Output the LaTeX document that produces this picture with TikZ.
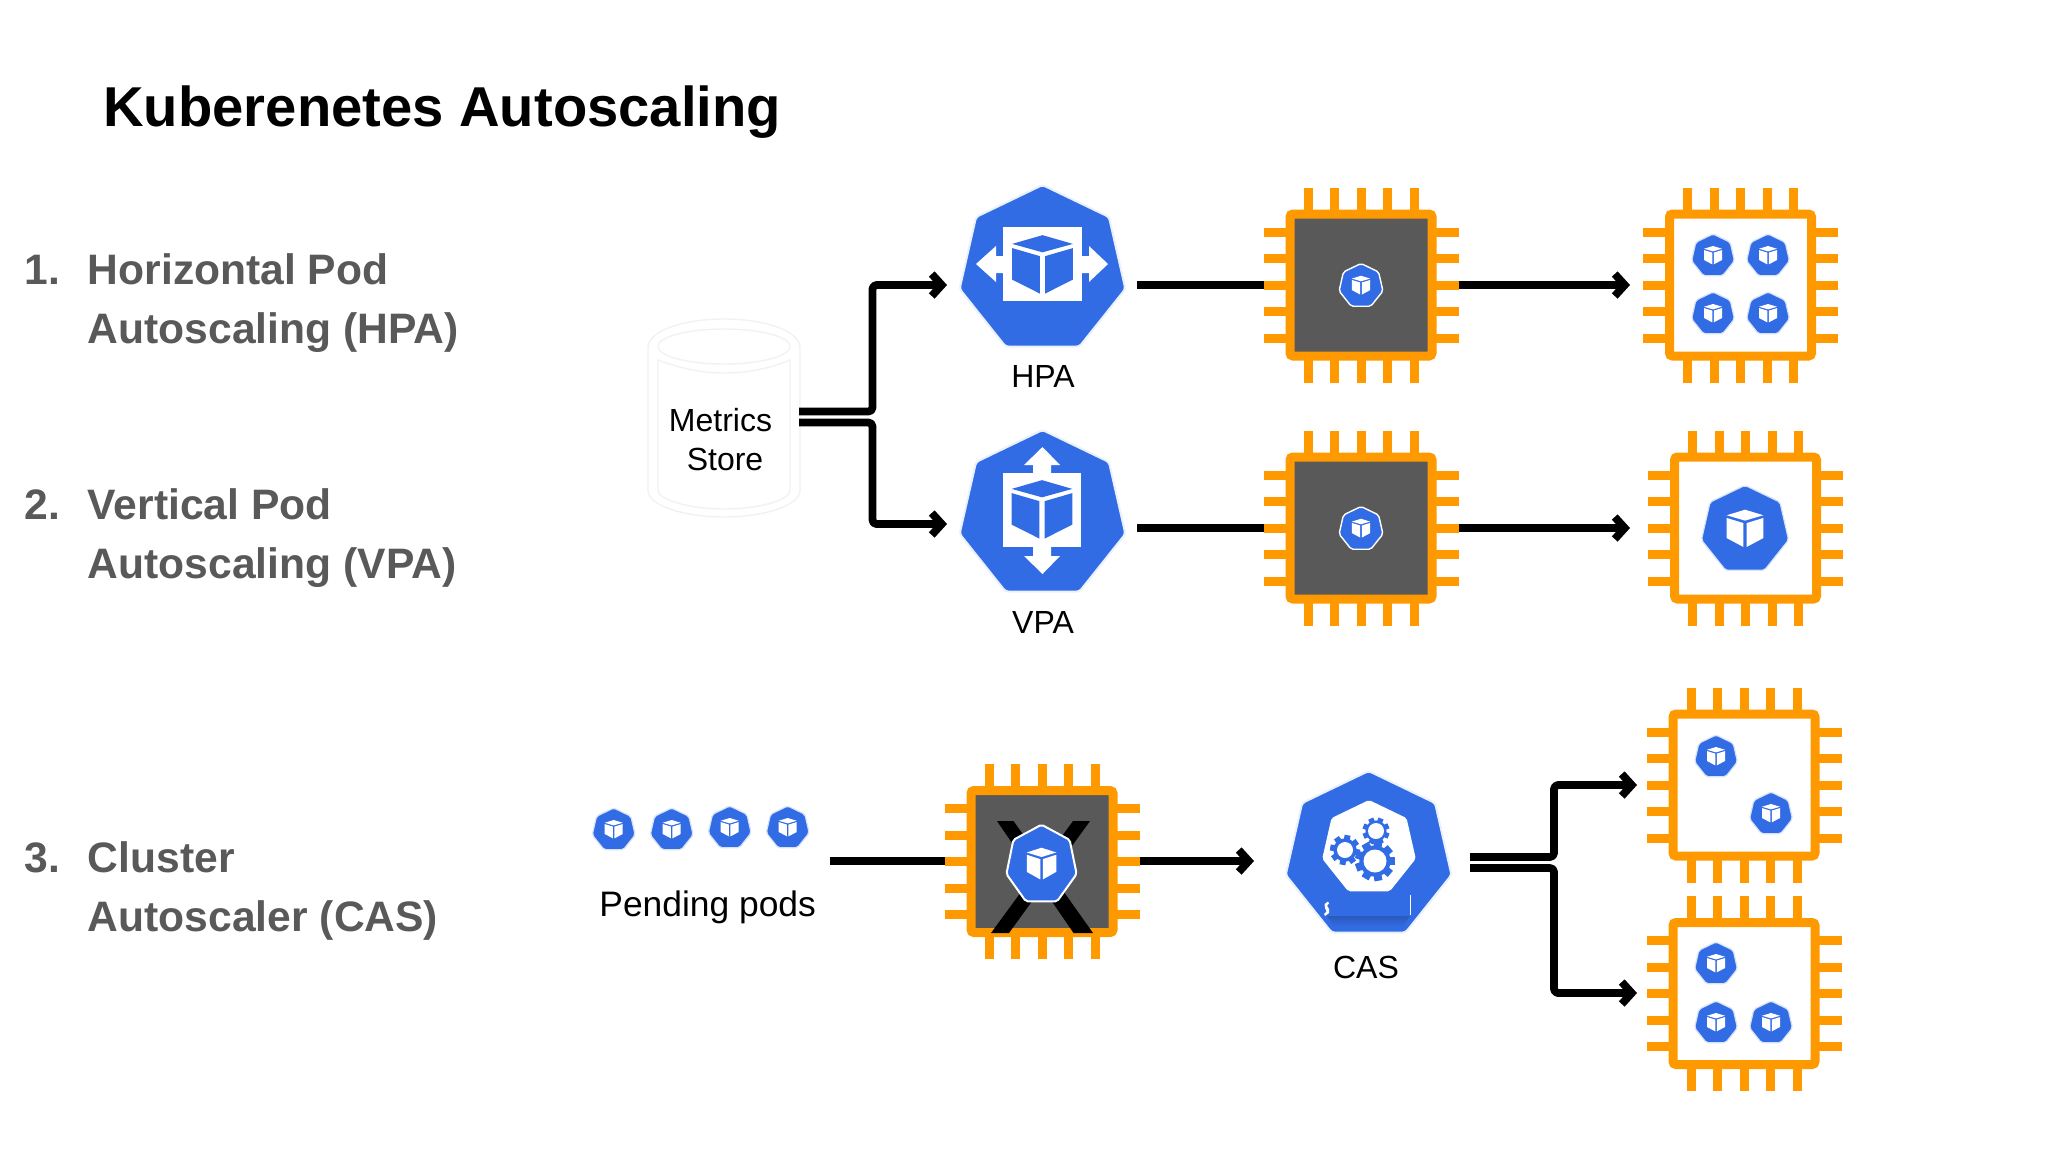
\documentclass[tikz,border=0pt]{standalone}
\usepackage{fontspec}
\setmainfont{Liberation Sans}
\usetikzlibrary{shapes.geometric,arrows.meta}
\definecolor{orng}{HTML}{FF9900}
\definecolor{kblue}{HTML}{326CE5}
\definecolor{kdark}{HTML}{2A59BC}
\definecolor{khalo}{HTML}{D6E2FA}
\definecolor{dgrey}{HTML}{595959}
\definecolor{cyl}{HTML}{F2F2F2}
\tikzset{
  conn/.style={line width=3.9pt,black,line join=round},
  arr/.style={conn,-{Straight Barb[length=5pt,width=11pt,line width=3.9pt]}},
  pin/.style={line width=4.5pt,orng},
  chipbody/.style={draw=orng,line width=4.5pt,rounded corners=1.5pt,minimum size=71pt,inner sep=0pt,outer sep=0pt},
  podbase/.style={regular polygon,regular polygon sides=7,fill=kblue,inner sep=0pt,outer sep=0pt,rounded corners=1pt},
  smallpod/.style={podbase,draw=khalo,line width=0.6pt},
  whitepod/.style={podbase,draw=white,line width=0.7pt},
  bigpod/.style={podbase,draw=khalo!50,line width=1pt,rounded corners=1.5pt,minimum size=85pt},
  lab/.style={font=\fontsize{16}{18}\selectfont,inner sep=0pt,anchor=base},
  item/.style={font=\fontsize{21.3}{26}\selectfont\bfseries,text=dgrey,inner sep=0pt,anchor=base west},
}
% chip: name, cx, cy, interior colour
\newcommand{\chip}[4]{%
  \foreach \d in {-53,-26.5,0,26.5,53}{
    \draw[pin] (#2+\d,#3-97.5) -- (#2+\d,#3+97.5);
    \draw[pin] (#2-97.5,#3+\d) -- (#2+97.5,#3+\d);
  }
  \node[chipbody,fill=#4] (#1) at (#2,#3) {};
}
% cube: cx, cy, scale x, scale y, colour
\newcommand{\cube}[5]{%
  \begin{scope}[shift={(#1,#2)},xscale=#3,yscale=#4]
    \fill[#5] (0,-.455) -- (.41,-.33) -- (0,-.21) -- (-.41,-.33) -- cycle;
    \fill[#5] (-.41,-.27) -- (-.035,-.155) -- (-.035,.38) -- (-.41,.18) -- cycle;
    \fill[#5] (.41,-.27) -- (.035,-.155) -- (.035,.38) -- (.41,.18) -- cycle;
  \end{scope}%
}
% pod: name, cx, cy, R
\newcommand{\pod}[4]{%
  \node[smallpod,minimum size={2*#4*0.5pt}] (#1) at (#2,#3) {};
  \cube{#2}{#3}{#4}{#4}{white}%
}
% pod with a white rim, on a dark chip
\newcommand{\podw}[4]{%
  \node[whitepod,minimum size={2*#4*0.5pt}] (#1) at (#2,#3) {};
  \cube{#2}{#3}{#4}{#4}{white}%
}
% gear: cx, cy, outer r, hole r, teeth, rotation
\newcommand{\gear}[6]{%
  \fill[kblue] (#1,#2) circle ({#3*0.78});
  \foreach \a in {1,...,#5}{
    \draw[kblue,line width={#3*0.2pt}] (#1,#2) -- ++({#6+\a*360/#5}:#3);
  }
  \fill[white] (#1,#2) circle (#4);
}
\begin{document}
\begin{tikzpicture}[x=0.5pt,y=-0.5pt]
\useasboundingbox (0,0) rectangle (2048,1152);
\fill[white] (0,0) rectangle (2048,1152);

% title and list
\node[inner sep=0pt,anchor=base west,font=\fontsize{28.1}{34}\selectfont\bfseries] (title) at (103,126) {Kuberenetes Autoscaling};
\node[item] (n1) at (24,284) {1.};
\node[item] (t1a) at (87.5,284) {Horizontal Pod};
\node[item] (t1b) at (87.5,343) {Autoscaling (HPA)};
\node[item] (n2) at (24,519) {2.};
\node[item] (t2a) at (87.5,519) {Vertical Pod};
\node[item] (t2b) at (87.5,578) {Autoscaling (VPA)};
\node[item] (n3) at (24,872) {3.};
\node[item] (t3a) at (87.5,872) {Cluster};
\node[item] (t3b) at (87.5,931) {Autoscaler (CAS)};

% metrics store cylinder
\begin{scope}[draw=cyl,line width=0.7pt]
  \draw (648,348) .. controls (648,330) and (685,319) .. (724,319)
        .. controls (763,319) and (800,330) .. (800,348) -- (800,490)
        .. controls (800,506) and (763,517) .. (724,517)
        .. controls (685,517) and (648,506) .. (648,490) -- cycle;
  \draw (724,346.5) ellipse[x radius=66,y radius=17.5];
  \draw (658,360) .. controls (680,368) and (700,373) .. (724,373)
        .. controls (750,373) and (770,368) .. (790,360) -- (790,490)
        .. controls (790,500) and (760,509) .. (724,509)
        .. controls (690,509) and (658,500) .. (658,490) -- cycle;
\end{scope}
\node[lab] (m1) at (720.5,431) {Metrics};
\node[lab] (m2) at (725,470) {Store};
\coordinate (ms1) at (799,411.5);
\coordinate (ms2) at (799,422.5);

% HPA icon
\node[bigpod] (hpa) at (1042.5,270) {};
\fill[white] (1003,227) rectangle (1082,301);
\fill[white] (1004,256) -- (996,256) -- (996,246) -- (976,264) -- (996,282) -- (996,273) -- (1004,273) -- cycle;
\fill[white] (1081,256) -- (1089,256) -- (1089,246) -- (1108,264) -- (1089,282) -- (1089,273) -- (1081,273) -- cycle;
\cube{1042.5}{267}{74}{70}{kblue}
\node[lab] (hpal) at (1043,387) {HPA};

% VPA icon
\node[bigpod] (vpa) at (1042.5,515) {};
\fill[white] (1003,473) rectangle (1081,547);
\fill[white] (1033,474) -- (1033,465) -- (1024,465) -- (1042.5,447) -- (1060,465) -- (1051,465) -- (1051,474) -- cycle;
\fill[white] (1033,546) -- (1033,556) -- (1024,556) -- (1042.5,574) -- (1060,556) -- (1051,556) -- (1051,546) -- cycle;
\cube{1042}{512}{74}{70}{kblue}
\node[lab] (vpal) at (1043,633) {VPA};

% chips, rows 1 and 2
\chip{c1m}{1361}{285}{dgrey}
\chip{c1r}{1740.5}{285}{white}
\chip{c2m}{1361}{528}{dgrey}
\chip{c2r}{1745.5}{528}{white}
\podw{p1m}{1361}{286}{22.5}
\podw{p2m}{1361}{529}{22.5}
\pod{p1a}{1713}{256}{22}
\pod{p1b}{1768}{256}{22}
\pod{p1c}{1713}{314}{22}
\pod{p1d}{1768}{314}{22}
\pod{p2big}{1745}{530}{44.7}

% metrics connectors
\draw[arr,rounded corners=2pt] (ms1) -- (872.5,411.5) -- (872.5,285) -- (947,285);
\draw[arr,rounded corners=2pt] (ms2) -- (872.5,422.5) -- (872.5,524) -- (947,524);
\coordinate (h1) at (1137,285);
\coordinate (h2) at (1264,285);
\coordinate (h3) at (1459,285);
\coordinate (h4) at (1630,285);
\coordinate (v1) at (1137,528);
\coordinate (v2) at (1264,528);
\coordinate (v3) at (1459,528);
\coordinate (v4) at (1630,528);
\draw[conn] (h1) -- (h2);
\draw[arr] (h3) -- (h4);
\draw[conn] (v1) -- (v2);
\draw[arr] (v3) -- (v4);

% pending pods
\pod{q1}{613.7}{830}{22}
\pod{q2}{671.7}{830}{22}
\pod{q3}{729.7}{828}{22}
\pod{q4}{787.7}{828}{22}
\node[inner sep=0pt,anchor=base west,font=\fontsize{17.7}{21}\selectfont] (pend) at (599,916) {Pending pods};
\coordinate (pp) at (830,861);
\coordinate (ca) at (945,861);
\draw[conn] (pp) -- (ca);

% blocked chip
\chip{c3}{1042}{861.5}{dgrey}
\fill[black] (997,821) -- (1013.5,821) -- (1093,933) -- (1073.5,933) -- cycle;
\fill[black] (1073,821) -- (1090,821) -- (1009,933) -- (991,933) -- cycle;
\begin{scope}[shift={(1041.5,865)},yscale=1.12]
  \node[podbase,draw=white,line width=1pt,minimum size=36pt,transform shape] (p3) at (0,0) {};
\end{scope}
\cube{1041.5}{865}{36}{38}{white}
\coordinate (c3o) at (1140,861);
\coordinate (casin) at (1254,861);
\draw[arr] (c3o) -- (casin);

% CAS icon
\node[bigpod] (cas) at (1368.6,856) {};
\node[regular polygon,regular polygon sides=7,fill=white,inner sep=0pt,outer sep=0pt,rounded corners=1pt,minimum size=48pt] (casin2) at (1369,848) {};
\shade[top color=kdark,bottom color=kblue] (1327,916) -- (1410,916) -- (1402,927) -- (1334,927) -- cycle;
\fill[white] (1409.5,895) rectangle (1411,915);
\fill[white] (1324.5,904) -- (1328,901.5) -- (1329,903.5) -- (1327,905.5) -- (1329,909) -- (1329,913) -- (1325,916) -- (1324,914) -- (1326.5,911.5) -- (1325,908) -- cycle;
\gear{1375}{861}{20}{11.5}{9}{0}
\gear{1345}{850}{15}{8}{8}{10}
\gear{1376}{831}{13.5}{8}{8}{22}
\node[lab] (casl) at (1366,978) {CAS};

% CAS outputs
\chip{c4}{1744}{785}{white}
\chip{c5}{1744}{993.5}{white}
\pod{r1}{1716}{757}{22}
\pod{r2}{1771}{814}{22}
\pod{s1}{1716}{964}{22}
\pod{s2}{1716}{1023}{22}
\pod{s3}{1771}{1023}{22}
\coordinate (co1) at (1470,857);
\coordinate (co2) at (1470,868);
\coordinate (i1) at (1637,785);
\coordinate (i2) at (1637,993);
\draw[arr,rounded corners=2pt] (co1) -- (1554,857) -- (1554,785) -- (i1);
\draw[arr,rounded corners=2pt] (co2) -- (1554,868) -- (1554,993) -- (i2);
\end{tikzpicture}
\end{document}
